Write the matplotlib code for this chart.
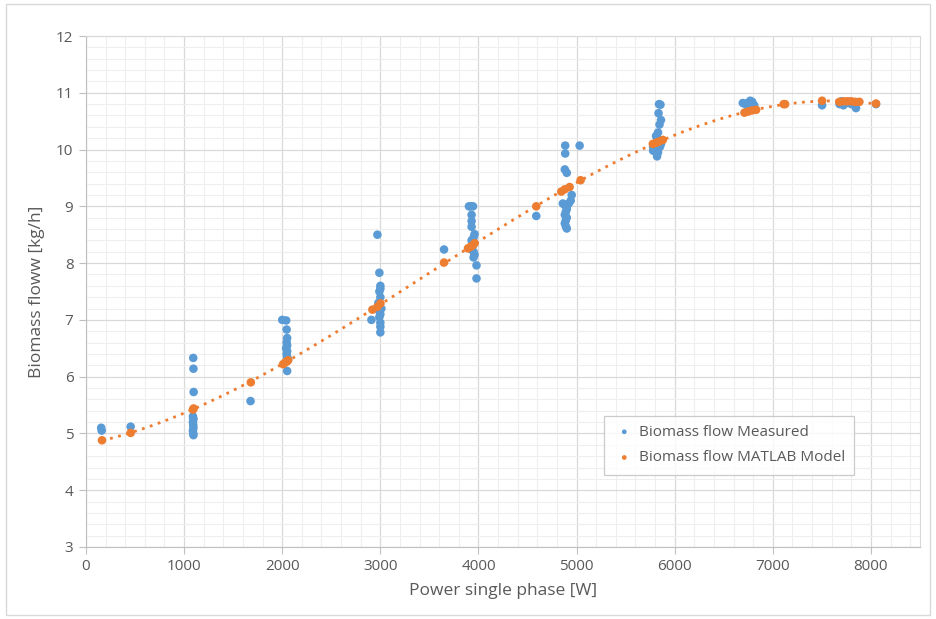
import numpy as np
import matplotlib
matplotlib.use("Agg")
import matplotlib.pyplot as plt
from matplotlib.patches import Rectangle

# Measured data
meas_x = [155, 160, 455,
          1093, 1095, 1097, 1090, 1092, 1095, 1090, 1093, 1095, 1090, 1093, 1095,
          1677,
          2000, 2040, 2045, 2050, 2045, 2050, 2040, 2050, 2045, 2050, 2060, 2050,
          2909, 2970, 2990, 3000, 3000, 2990, 3000, 2980, 3010, 2990, 3000, 2990, 3000, 3000, 3000,
          3649,
          3903, 3944, 3920, 3930, 3930, 3930, 3960, 3950, 3930, 3950, 3940, 3920, 3950, 3960, 3950, 3980, 3980,
          4589,
          4884, 5031, 4884, 4880, 4900, 4860, 4880, 4900, 4920, 4940, 4950, 4900, 4890, 4880, 4900, 4890, 4880, 4890, 4900,
          5855, 5840, 5835, 5860, 5845, 5830, 5810, 5820, 5800, 5780, 5800, 5850, 5860, 5830, 5820, 5780,
          6694, 6740, 6770, 6790, 6810, 6750, 6720,
          7502,
          7680, 7720, 7750, 7780, 7800, 7848, 7700,
          8052]
meas_y = [5.10, 5.05, 5.12,
          6.33, 6.14, 5.73, 5.30, 5.27, 5.25, 5.20, 5.15, 5.10, 5.05, 5.00, 4.97,
          5.57,
          7.00, 6.99, 6.83, 6.68, 6.60, 6.55, 6.50, 6.45, 6.40, 6.35, 6.30, 6.10,
          7.00, 8.50, 7.83, 7.60, 7.55, 7.50, 7.40, 7.30, 7.20, 7.15, 7.10, 7.05, 6.95, 6.88, 6.78,
          8.24,
          9.00, 9.00, 9.00, 8.85, 8.74, 8.64, 8.51, 8.45, 8.40, 8.35, 8.30, 8.25, 8.20, 8.15, 8.10, 7.96, 7.73,
          8.83,
          10.07, 10.07, 9.93, 9.65, 9.59, 9.05, 9.02, 9.00, 9.05, 9.10, 9.20, 8.95, 8.90, 8.85, 8.80, 8.75, 8.70, 8.65, 8.61,
          10.79, 10.80, 10.64, 10.52, 10.44, 10.30, 10.24, 10.20, 10.10, 10.05, 10.00, 10.05, 10.10, 9.95, 9.88, 9.98,
          10.82, 10.82, 10.86, 10.84, 10.78, 10.76, 10.80,
          10.78,
          10.80, 10.78, 10.82, 10.84, 10.80, 10.73, 10.85,
          10.80]

# Model data
model_x = [163, 455, 1090, 1097, 1680, 2009, 2030, 2050, 2060, 2919, 2970, 3001, 3649,
           3893, 3920, 3940, 3961, 4589, 4844, 4880, 4929, 5041, 5777, 5810, 5840, 5879,
           6711, 6750, 6790, 6830, 7111, 7125, 7502, 7678, 7720, 7760, 7800, 7840, 7882, 8052]
model_y = [4.88, 5.01, 5.42, 5.44, 5.90, 6.22, 6.25, 6.27, 6.29, 7.18, 7.23, 7.29, 8.01,
           8.26, 8.29, 8.31, 8.35, 9.00, 9.26, 9.30, 9.34, 9.46, 10.10, 10.12, 10.14, 10.17,
           10.65, 10.67, 10.69, 10.70, 10.80, 10.80, 10.86, 10.84, 10.85, 10.85, 10.85, 10.84, 10.84, 10.81]

x_ticks = [0, 1000, 2000, 3000, 4000, 5000, 6000, 7000, 8000]
y_ticks = [3, 4, 5, 6, 7, 8, 9, 10, 11, 12]

BLUE = "#5b9bd5"
ORANGE = "#ed7d31"
TXT = "#595959"

plt.rcParams['font.family'] = ['Open Sans', 'DejaVu Sans']

fig = plt.figure(figsize=(9.37, 6.19), dpi=100)
ax = fig.add_axes([86/937, 1-547/619, (920-86)/937, (547-36)/619])

ax.set_xlim(0, 8500)
ax.set_ylim(3, 12)
ax.set_xticks(x_ticks)
ax.set_yticks(y_ticks)
ax.set_xticks(np.arange(0, 8501, 200), minor=True)
ax.set_yticks(np.arange(3, 12.01, 0.2), minor=True)
ax.grid(which='minor', color='#eeeeee', linewidth=0.8, zorder=0)
ax.grid(which='major', color='#d9d9d9', linewidth=0.9, zorder=0)
ax.set_axisbelow(True)
ax.tick_params(which='minor', length=0)
ax.tick_params(which='major', length=5, color='#bfbfbf', labelcolor=TXT, labelsize=11, pad=4)
for s in ax.spines.values():
    s.set_color('#d9d9d9')
ax.spines['left'].set_color('#bfbfbf')
ax.spines['bottom'].set_color('#bfbfbf')

ax.scatter(meas_x, meas_y, s=38, color=BLUE, edgecolors='none', zorder=3, label='Biomass flow Measured')

# polynomial trendline of model
coef = np.polyfit(model_x, model_y, 3)
xx = np.linspace(min(model_x), max(model_x), 300)
ax.plot(xx, np.polyval(coef, xx), linestyle=(0, (1, 2)), color=ORANGE, linewidth=2, zorder=4)

ax.scatter(model_x, model_y, s=38, color=ORANGE, edgecolors='none', zorder=5, label='Biomass flow MATLAB Model')

ax.set_xlabel('Power single phase [W]', color=TXT, fontsize=12.5, labelpad=6)
ax.set_ylabel('Biomass floww [kg/h]', color=TXT, fontsize=12.5, labelpad=8)

leg = ax.legend(loc='upper left', bbox_to_anchor=((596-86)/834, 1-(408-36)/511),
                frameon=True, fancybox=False, edgecolor='#bfbfbf', fontsize=11,
                labelcolor=TXT, markerscale=0.55, handletextpad=0.2, borderpad=0.6,
                labelspacing=0.7, handlelength=1.5)
leg.get_frame().set_linewidth(0.9)

fig.patches.append(Rectangle((6/937, 4/619), 924/937, 611/619, transform=fig.transFigure,
                             fill=False, edgecolor='#d9d9d9', linewidth=1))

fig.savefig('out.png', dpi=100)
